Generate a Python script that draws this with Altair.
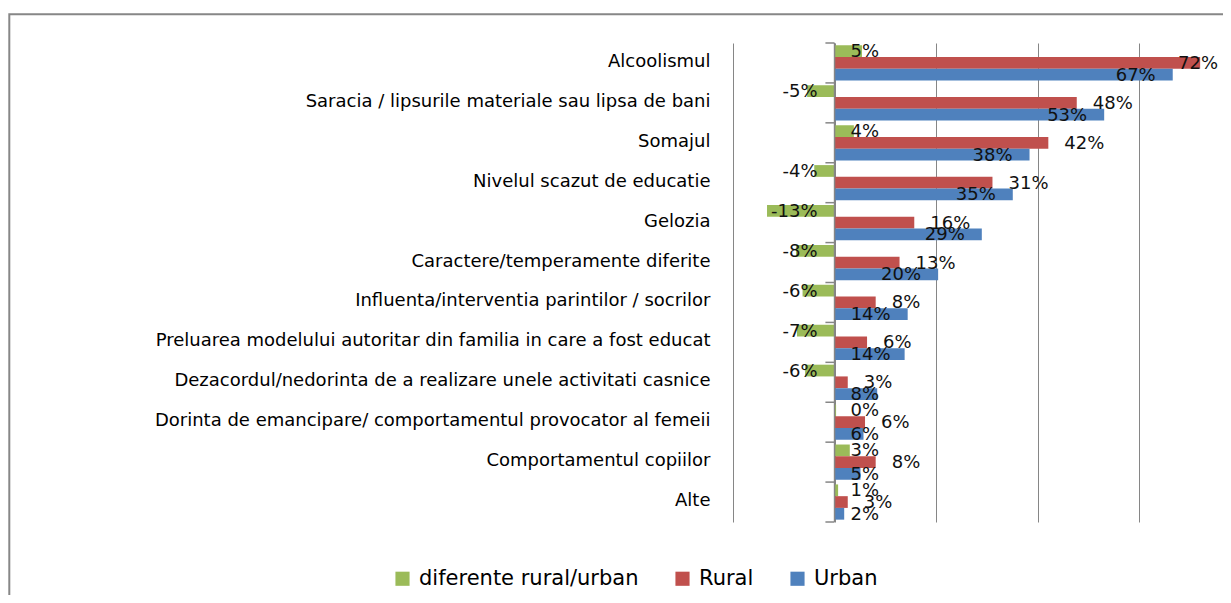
import altair as alt
import pandas as pd

categories = [
    "Alcoolismul",
    "Saracia / lipsurile materiale sau lipsa de bani",
    "Somajul",
    "Nivelul scazut de educatie",
    "Gelozia",
    "Caractere/temperamente diferite",
    "Influenta/interventia parintilor / socrilor",
    "Preluarea modelului autoritar din familia in care a fost educat",
    "Dezacordul/nedorinta de a realizare unele activitati casnice",
    "Dorinta de emancipare/ comportamentul provocator al femeii",
    "Comportamentul copiilor",
    "Alte",
]
diferente = [5.4, -5.4, 3.8, -4.0, -13.3, -7.6, -6.3, -7.4, -5.8, 0.3, 3.0, 0.7]
rural = [72.0, 47.7, 42.1, 31.1, 15.7, 12.8, 8.1, 6.4, 2.6, 6.0, 8.1, 2.6]
urban = [66.6, 53.1, 38.4, 35.1, 29.0, 20.4, 14.4, 13.8, 8.4, 5.7, 5.1, 1.9]

series_names = ["diferente rural/urban", "Rural", "Urban"]
series_colors = ["#9BBB59", "#C0504D", "#4F81BD"]
grid_values = [-20, 0, 20, 40, 60]

rows = []
for i, cat in enumerate(categories):
    for name, vals in zip(series_names, [diferente, rural, urban]):
        v = vals[i]
        rows.append({"cat": cat, "series": name, "value": v, "label": f"{v:.0f}%"})
df = pd.DataFrame(rows)

W, H = 490, 479
XMIN, XMAX = -20, 76.5
PXU = W / (XMAX - XMIN)
FS = 18

x_scale = alt.Scale(domain=[XMIN, XMAX], nice=False)
y_scale = alt.Scale(paddingInner=0, paddingOuter=0)
yoff_scale = alt.Scale(domain=series_names, paddingInner=0, paddingOuter=0.2)

y_enc = alt.Y("cat:N", sort=categories, scale=y_scale, title=None)
yoff_enc = alt.YOffset("series:N", sort=series_names, scale=yoff_scale)

base = alt.Chart(df)

bars = base.mark_bar().encode(
    y=y_enc,
    yOffset=yoff_enc,
    x=alt.X("value:Q", scale=x_scale, title=None,
            axis=alt.Axis(values=grid_values, grid=True, labels=False,
                          ticks=False, domain=False)),
    color=alt.Color(
        "series:N", sort=series_names,
        scale=alt.Scale(domain=series_names, range=series_colors),
        legend=alt.Legend(
            title=None, orient="none", legendX=-341, legendY=525,
            direction="horizontal", symbolType="square", symbolSize=200,
            symbolStrokeWidth=0, labelFont="DejaVu Sans", labelFontSize=21,
            labelColor="#000000", labelOffset=6, columnPadding=33, padding=0,
            labelLimit=600,
        ),
    ),
)

txt_style = dict(font="DejaVu Sans", fontSize=FS, color="#111111", baseline="middle", dy=1)

green_pos = base.transform_filter(
    "datum.series == 'diferente rural/urban' && datum.value >= 0"
).transform_calculate(lx="0").mark_text(align="left", dx=16, **txt_style).encode(
    y=y_enc, yOffset=yoff_enc, x=alt.X("lx:Q", scale=x_scale, title=None), text="label:N"
)
green_neg = base.transform_filter(
    "datum.series == 'diferente rural/urban' && datum.value < 0"
).transform_calculate(lx="0").mark_text(align="right", dx=-17, **txt_style).encode(
    y=y_enc, yOffset=yoff_enc, x=alt.X("lx:Q", scale=x_scale, title=None), text="label:N"
)
rural_txt = base.transform_filter("datum.series == 'Rural'").transform_calculate(
    lx="min(datum.value, 64.5)"
).mark_text(align="left", dx=16, **txt_style).encode(
    y=y_enc, yOffset=yoff_enc, x=alt.X("lx:Q", scale=x_scale, title=None), text="label:N"
)
urban_txt = base.transform_filter("datum.series == 'Urban'").transform_calculate(
    lx=f"max(datum.value, (33 + {0.636 * FS} * (length(datum.label) - 1) + {0.95 * FS}) / {PXU})"
).mark_text(align="right", dx=-17, **txt_style).encode(
    y=y_enc, yOffset=yoff_enc, x=alt.X("lx:Q", scale=x_scale, title=None), text="label:N"
)

cat_df = pd.DataFrame({"cat": categories})
ticks_top = alt.Chart(cat_df).transform_calculate(tx="-1.8", tx2="0").mark_rule(
    color="#868686", strokeWidth=1.5
).encode(
    y=alt.Y("cat:N", sort=categories, scale=y_scale, bandPosition=0, title=None),
    x=alt.X("tx:Q", scale=x_scale, title=None),
    x2="tx2:Q",
)
ticks_bottom = alt.Chart(cat_df).transform_filter(
    f"datum.cat == '{categories[-1]}'"
).transform_calculate(tx="-1.8", tx2="0").mark_rule(
    color="#868686", strokeWidth=1.5
).encode(
    y=alt.Y("cat:N", sort=categories, scale=y_scale, bandPosition=1, title=None),
    x=alt.X("tx:Q", scale=x_scale, title=None),
    x2="tx2:Q",
)
zero_line = alt.Chart(alt.Data(values=[{"z": 0}])).mark_rule(
    color="#868686", strokeWidth=1.5
).encode(x=alt.X("z:Q", scale=x_scale, title=None))

frame = alt.Chart(alt.Data(values=[{"f": 1}])).mark_rect(
    fillOpacity=0, stroke="#878787", strokeWidth=2
).encode(
    x=alt.value(-723.7), x2=alt.value(510),
    y=alt.value(-28.7), y2=alt.value(580),
)

chart = alt.layer(
    frame, bars, zero_line, ticks_top, ticks_bottom,
    green_pos, green_neg, rural_txt, urban_txt,
).properties(
    width=W, height=H,
    autosize=alt.AutoSizeParams(type="none"),
    padding={"left": 725, "top": 35, "right": 0, "bottom": 73},
).configure_view(strokeWidth=0).configure_axisX(
    gridColor="#868686", gridWidth=1, labels=False, ticks=False, domain=False
).configure_axisY(
    ticks=False, domain=False, grid=False, labelPadding=23, labelOffset=-1,
    labelFont="DejaVu Sans", labelFontSize=18, labelColor="#000000", labelLimit=800,
)

chart.save("out.html", embed_options={"renderer": "svg", "actions": False})
